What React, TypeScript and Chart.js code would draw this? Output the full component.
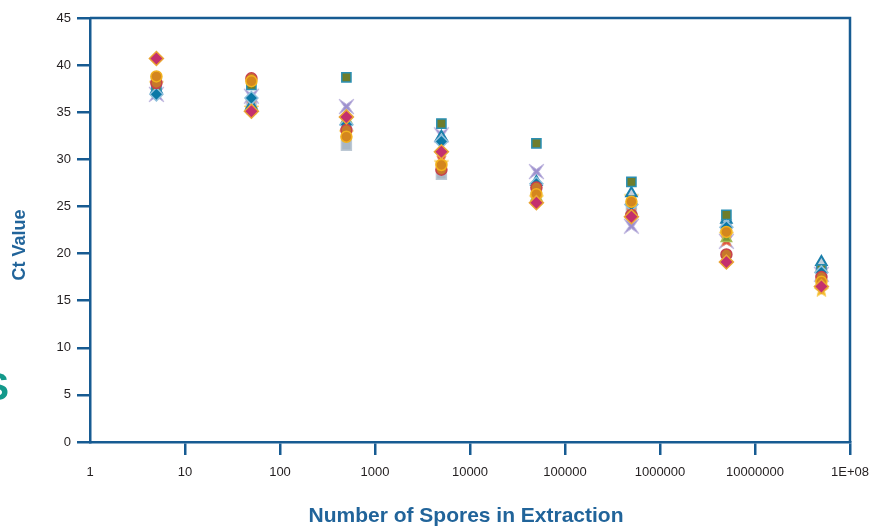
import { useEffect, useRef } from 'react';
import Chart from 'chart.js/auto';

// spores per extraction (x) and the Ct values read for each replicate series
const spores = [5, 50, 500, 5000, 50000, 500000, 5000000, 50000000];
const xTickValues = [1, 10, 100, 1000, 10000, 100000, 1000000, 10000000, 100000000];

const squareGreen = [37.8, 37.9, 38.7, 33.8, 31.7, 27.6, 24.1, 18.3];
const triangleTeal = [37.4, 35.7, 34.0, 32.4, 27.6, 26.4, 23.6, 19.1];
const diamondBlue = [36.9, 36.5, 33.7, 31.9, 27.4, 25.2, 22.8, 18.0];
const diamondMagenta = [40.7, 35.1, 34.5, 30.8, 25.4, 23.9, 19.1, 16.5];
const circleOrange = [38.8, 38.3, 32.4, 29.4, 26.3, 25.5, 22.3, 17.0];
const circleRed = [38.1, 38.6, 33.1, 28.9, 27.0, 24.1, 19.9, 17.5];
const crossLavender = [36.9, 36.7, 35.6, 32.6, 28.7, 22.9, 21.3, 17.8];
const squareGrey = [38.3, 36.0, 31.5, 28.4, 26.5, 24.6, 23.0, 18.1];
const triangleGreen = [37.2, 35.5, 34.2, 32.3, 26.0, 24.5, 21.6, 18.5];
const bowtieRed = [37.5, 35.8, 33.5, 29.9, 26.5, 24.3, 21.3, 16.9];
const starYellow = [38.0, 35.4, 32.8, 29.6, 25.9, 26.0, 22.0, 16.1];

const axisColor = '#175b92';
const titleColor = '#21649a';
const tickColor = '#231f20';
const fontFamily = '"Liberation Sans", Arial, Helvetica, sans-serif';

function starCanvas(points: number, outer: number, inner: number, rotation: number, fill: string, stroke: string, lw: number) {
  const size = Math.ceil(outer * 2 + lw * 2 + 2);
  const c = document.createElement('canvas');
  c.width = size;
  c.height = size;
  const ctx = c.getContext('2d');
  if (!ctx) return c;
  ctx.translate(size / 2, size / 2);
  ctx.beginPath();
  for (let k = 0; k < points * 2; k++) {
    const r = k % 2 === 0 ? outer : inner;
    const a = rotation + (k * Math.PI) / points;
    ctx.lineTo(r * Math.sin(a), -r * Math.cos(a));
  }
  ctx.closePath();
  ctx.fillStyle = fill;
  ctx.fill();
  ctx.lineWidth = lw;
  ctx.strokeStyle = stroke;
  ctx.stroke();
  return c;
}

const toPoints = (arr: number[]) => spores.map((x, i) => ({ x, y: arr[i] }));

export default function App() {
  const chartRef = useRef<HTMLCanvasElement>(null);
  const chartInstance = useRef<Chart | null>(null);

  useEffect(() => {
    document.body.style.margin = '0';
    if (!chartRef.current) return;
    if (chartInstance.current) chartInstance.current.destroy();
    const ctx = chartRef.current.getContext('2d');
    if (!ctx) return;

    const lavenderX = starCanvas(4, 10.5, 2.2, Math.PI / 4, '#9c8fcd', '#b7addb', 1);
    const redBowtie = starCanvas(4, 6.5, 2.6, Math.PI / 4, '#e2473b', '#ef8a5a', 1);
    const yellowStar = starCanvas(5, 7.5, 3.2, 0, '#f5b81c', '#f8cf60', 1);

    const mk = (label: string, data: number[], style: any, radius: number, bg: string, border: string, bw = 1.5) => ({
      label,
      data: toPoints(data),
      showLine: false,
      pointStyle: style,
      pointRadius: radius,
      pointBackgroundColor: bg,
      pointBorderColor: border,
      pointBorderWidth: bw,
    });

    // first dataset is drawn on top
    const datasets = [
      mk('Magenta diamond', diamondMagenta, 'rectRot', 7, '#c4306e', '#eaa534'),
      mk('Orange circle', circleOrange, 'circle', 5.5, '#d4861e', '#f2b21e'),
      mk('Red circle', circleRed, 'circle', 5.5, '#c6782c', '#c8424c'),
      mk('Blue diamond', diamondBlue, 'rectRot', 6.5, '#0c78a6', '#8fc0dc'),
      mk('Green square', squareGreen, 'rect', 6.5, '#6e7d2c', '#2a8fb3'),
      mk('Teal triangle', triangleTeal, 'triangle', 6, '#c4d0dc', '#1a7fab', 2),
      mk('Green triangle', triangleGreen, 'triangle', 6, '#7b9a36', '#a5bd58'),
      mk('Yellow star', starYellow, yellowStar, 7, '#f5b81c', '#f5b81c'),
      mk('Red bowtie', bowtieRed, redBowtie, 6, '#e2473b', '#e2473b'),
      mk('Lavender cross', crossLavender, lavenderX, 10, '#9c8fcd', '#9c8fcd'),
      mk('Grey square', squareGrey, 'rect', 7, '#a9b7c5', '#bcc8d4'),
    ];

    const framePlugin = {
      id: 'frameAndTitles',
      afterDraw(chart: any) {
        const { ctx: c, chartArea } = chart;
        c.save();
        c.strokeStyle = axisColor;
        c.lineWidth = 2.5;
        c.beginPath();
        c.moveTo(chartArea.left, chartArea.top);
        c.lineTo(chartArea.right, chartArea.top);
        c.lineTo(chartArea.right, chartArea.bottom);
        c.stroke();

        c.fillStyle = titleColor;
        c.textAlign = 'center';
        c.textBaseline = 'middle';
        c.font = `bold 21px ${fontFamily}`;
        c.fillText('Number of Spores in Extraction', 466, 516);

        c.translate(20, 245);
        c.rotate(-Math.PI / 2);
        c.font = `bold 18px ${fontFamily}`;
        c.fillText('Ct Value', 0, 0);
        c.restore();
      },
    };

    chartInstance.current = new Chart(ctx, {
      type: 'scatter',
      data: { datasets: datasets as any },
      plugins: [framePlugin],
      options: {
        animation: false,
        responsive: true,
        maintainAspectRatio: false,
        layout: { padding: { left: 0, right: 29, top: 18, bottom: 0 } },
        plugins: {
          legend: { display: false },
          tooltip: { enabled: false },
        },
        scales: {
          x: {
            type: 'logarithmic',
            min: 1,
            max: 100000000,
            afterBuildTicks: (scale: any) => {
              scale.ticks = xTickValues.map((v) => ({ value: v }));
            },
            afterFit: (scale: any) => {
              scale.height = 85;
            },
            ticks: {
              autoSkip: false,
              maxRotation: 0,
              padding: 10,
              color: tickColor,
              font: { family: fontFamily, size: 13 },
              callback: (value: any) => (value === 100000000 ? '1E+08' : String(value)),
            },
            grid: {
              drawOnChartArea: false,
              tickLength: 13,
              lineWidth: 2.5,
              color: (c: any) => (c.tick && c.tick.value === 1 ? 'rgba(0,0,0,0)' : axisColor),
            },
            border: { color: axisColor, width: 2.5 },
          },
          y: {
            min: 0,
            max: 45,
            afterFit: (scale: any) => {
              scale.width = 90;
            },
            ticks: {
              stepSize: 5,
              padding: 6,
              color: tickColor,
              font: { family: fontFamily, size: 13 },
            },
            grid: {
              drawOnChartArea: false,
              tickLength: 13,
              lineWidth: 2.5,
              color: axisColor,
            },
            border: { color: axisColor, width: 2.5 },
          },
        },
      },
    });

    return () => {
      if (chartInstance.current) {
        chartInstance.current.destroy();
        chartInstance.current = null;
      }
    };
  }, []);

  return (
    <div style={{ width: '879px', height: '527px', position: 'relative', overflow: 'hidden', background: '#fff' }}>
      <canvas ref={chartRef} aria-label="Ct value versus number of spores in extraction" role="img"></canvas>
      <span
        style={{
          position: 'absolute',
          left: '-17px',
          top: '367px',
          fontFamily: '"Liberation Sans", Arial, sans-serif',
          fontWeight: 'bold',
          fontSize: '39px',
          lineHeight: '39px',
          color: '#13998b',
          pointerEvents: 'none',
        }}
      >
        S
      </span>
    </div>
  );
}
